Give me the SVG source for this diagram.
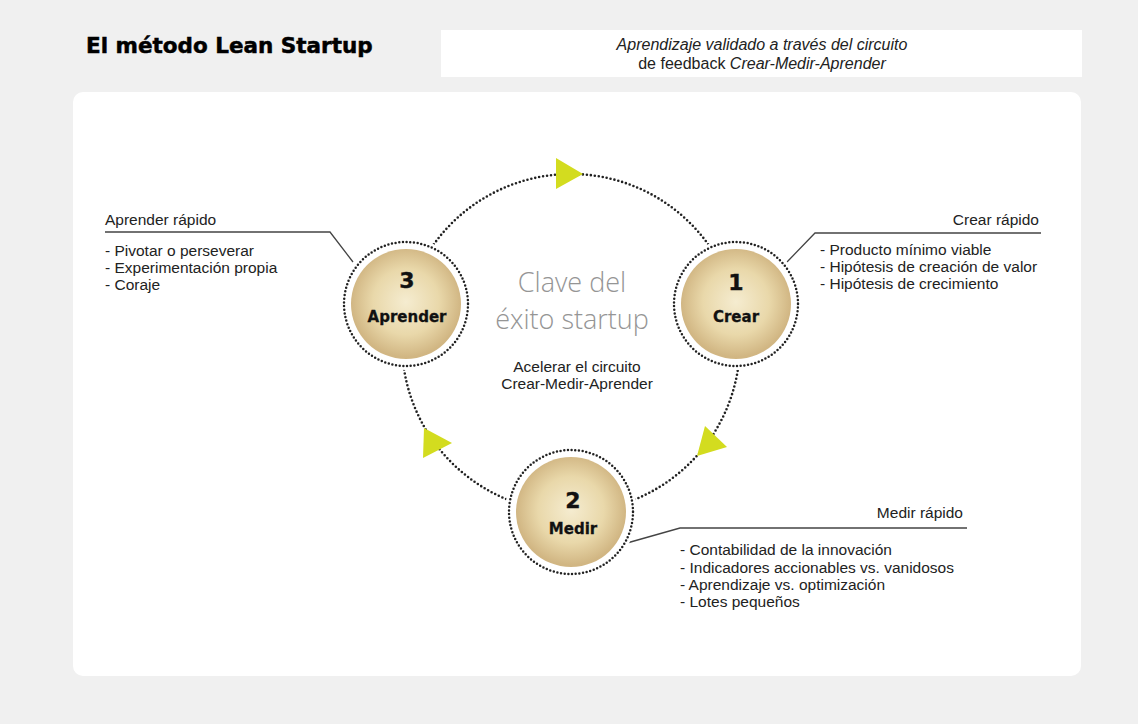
<svg xmlns="http://www.w3.org/2000/svg" width="1138" height="724" viewBox="0 0 1138 724">
<style>
.title{font-family:"DejaVu Sans","Liberation Sans",sans-serif;font-weight:bold;font-size:21.5px;fill:#000;stroke:#000;stroke-width:0.5}
.sub{font-family:"Liberation Sans",Arial,sans-serif;font-size:16px;fill:#222;text-anchor:middle}
.it{font-style:italic}
.txt{font-family:"Liberation Sans",Arial,sans-serif;font-size:15.5px;fill:#222}
.num{font-family:"DejaVu Sans","Liberation Sans",sans-serif;font-weight:bold;font-size:22px;fill:#111;text-anchor:middle;stroke:#111;stroke-width:0.4}
.lbl{font-family:"DejaVu Sans","Liberation Sans",sans-serif;font-weight:bold;font-size:15px;fill:#111;text-anchor:middle;stroke:#111;stroke-width:0.3}
.big{font-family:"Open Sans","Roboto",sans-serif;font-weight:300;font-size:27px;fill:#959595;text-anchor:middle}
.dots{fill:none;stroke:#222;stroke-width:2.6;stroke-linecap:round;stroke-dasharray:0 4}
.ring{fill:none;stroke:#222;stroke-width:2.5;stroke-linecap:round;stroke-dasharray:0 3.7}
.lead{fill:none;stroke:#444;stroke-width:1.3}
.arrow{fill:#d3dc1f}
</style>
<defs>
<radialGradient id="g" cx="50%" cy="48%" r="50%">
<stop offset="0" stop-color="#f5ecd0"/>
<stop offset="0.6" stop-color="#e9d8aa"/>
<stop offset="1" stop-color="#d1b683"/>
</radialGradient>
</defs>
<rect x="0" y="0" width="1138" height="724" fill="#f0f0f0"/>
<rect x="73" y="92" width="1008" height="584" rx="10" fill="#fff"/>
<rect x="441" y="30" width="641" height="47" fill="#fff"/>
<text class="title" x="86" y="53">El método Lean Startup</text>
<text class="sub it" x="762" y="50">Aprendizaje validado a través del circuito</text>
<text class="sub" x="762" y="69">de feedback <tspan class="it">Crear-Medir-Aprender</tspan></text>

<g id="connectors">
<circle class="dots" cx="571" cy="343" r="169"/>
<polygon class="arrow" points="556,158 583,174 556,189"/>
<polygon class="arrow" points="424,428 452,443 423,458"/>
<polygon class="arrow" points="705,426 727,447 697,456"/>
<polyline class="lead" points="105,232 330,232 353,262"/>
<polyline class="lead" points="1041,233 815,233 787,262"/>
<polyline class="lead" points="967,528 680,528 627,543"/>
</g>

<g id="center-text">
<text class="big" x="572" y="292">Clave del</text>
<text class="big" x="572" y="329">éxito startup</text>
<text class="txt" x="577" y="372" text-anchor="middle">Acelerar el circuito</text>
<text class="txt" x="577" y="389" text-anchor="middle">Crear-Medir-Aprender</text>
</g>

<g id="node-aprender">
<circle cx="406" cy="304" r="66" fill="#fff"/>
<circle class="ring" cx="406" cy="304" r="62"/>
<circle cx="406" cy="304" r="55" fill="url(#g)"/>
<text class="num" x="407" y="288">3</text>
<text class="lbl" x="407" y="322">Aprender</text>
</g>

<g id="node-crear">
<circle cx="736" cy="304" r="66" fill="#fff"/>
<circle class="ring" cx="736" cy="304" r="62"/>
<circle cx="736" cy="304" r="55" fill="url(#g)"/>
<text class="num" x="736" y="290">1</text>
<text class="lbl" x="736" y="322">Crear</text>
</g>

<g id="node-medir">
<circle cx="571" cy="512" r="66" fill="#fff"/>
<circle class="ring" cx="571" cy="512" r="62"/>
<circle cx="571" cy="512" r="55" fill="url(#g)"/>
<text class="num" x="573" y="508">2</text>
<text class="lbl" x="573" y="534">Medir</text>
</g>

<g id="aprender-rapido">
<text class="txt" x="105" y="225">Aprender rápido</text>
<text class="txt" x="105" y="256">- Pivotar o perseverar</text>
<text class="txt" x="105" y="273">- Experimentación propia</text>
<text class="txt" x="105" y="290">- Coraje</text>
</g>

<g id="crear-rapido">
<text class="txt" x="1039" y="225" text-anchor="end">Crear rápido</text>
<text class="txt" x="820" y="255">- Producto mínimo viable</text>
<text class="txt" x="820" y="272">- Hipótesis de creación de valor</text>
<text class="txt" x="820" y="289">- Hipótesis de crecimiento</text>
</g>

<g id="medir-rapido">
<text class="txt" x="963" y="518" text-anchor="end">Medir rápido</text>
<text class="txt" x="680" y="555">- Contabilidad de la innovación</text>
<text class="txt" x="680" y="573">- Indicadores accionables vs. vanidosos</text>
<text class="txt" x="680" y="590">- Aprendizaje vs. optimización</text>
<text class="txt" x="680" y="607">- Lotes pequeños</text>
</g>
</svg>
